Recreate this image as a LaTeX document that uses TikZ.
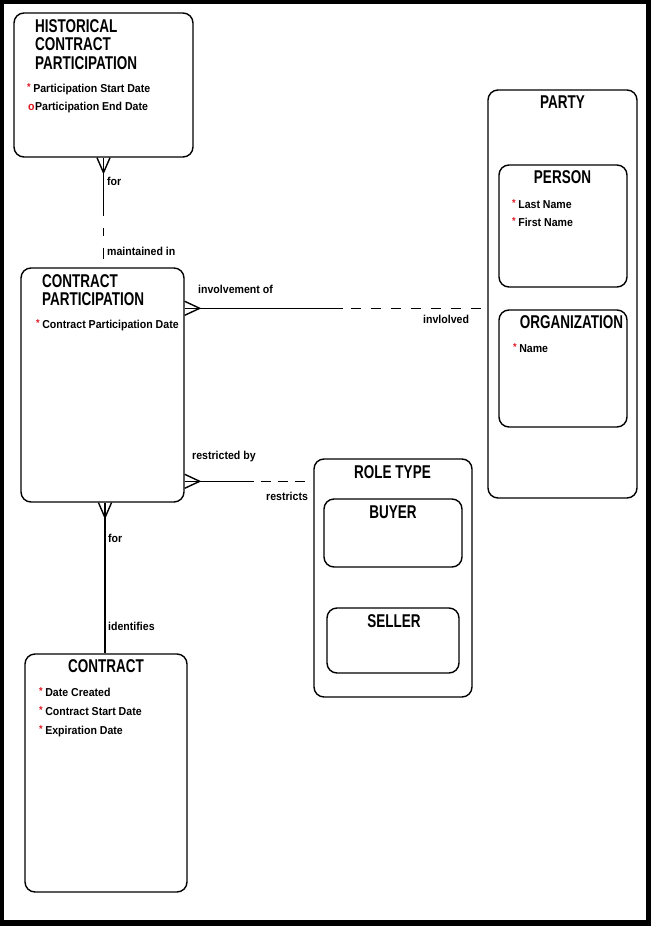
\documentclass[tikz,border=0pt]{standalone}
\usepackage{fontspec}
\setmainfont{Liberation Sans}
\newfontfamily\ttlfont{Liberation Sans}[FakeStretch=0.73]
\newfontfamily\txtfont{Liberation Sans}[FakeStretch=0.92]
\usetikzlibrary{calc}
\definecolor{reqred}{RGB}{225,20,30}
\newcommand{\reqmark}{\textcolor{reqred}{\raisebox{1.5pt}{\fontsize{10}{10}\selectfont *}}\hspace{2.5pt}}
\newcommand{\optmark}{\textcolor{reqred}{o}}
\begin{document}
\begin{tikzpicture}[x=1pt,y=-1pt,
  ent/.style={draw,line width=1.4pt,rounded corners=10pt,inner sep=0pt},
  ttl/.style={inner sep=0pt,font=\ttlfont\bfseries\fontsize{18.5}{18.5}\selectfont},
  attr/.style={inner sep=0pt,anchor=base west,font=\txtfont\bfseries\fontsize{11.5}{11.5}\selectfont},
  lbl/.style={inner sep=0pt,anchor=base west,font=\txtfont\bfseries\fontsize{11.5}{11.5}\selectfont},
  rel/.style={line width=1.4pt}]
\useasboundingbox (0,0) rectangle (651,926);
\fill[black] (0,0) rectangle (651,926);
\fill[white] (4,4) rectangle (646,920);

% entities
\node[ent,minimum width=179pt,minimum height=144pt] (hist) at (103.5,85) {};
\node[ent,minimum width=163pt,minimum height=234pt] (cp) at (102.5,385) {};
\node[ent,minimum width=162pt,minimum height=238pt] (con) at (106,773) {};
\node[ent,minimum width=149pt,minimum height=408pt] (party) at (562.5,294) {};
\node[ent,minimum width=128pt,minimum height=122pt] (person) at (563,226) {};
\node[ent,minimum width=128pt,minimum height=117pt] (org) at (563,368.5) {};
\node[ent,minimum width=158pt,minimum height=238pt] (role) at (393,578) {};
\node[ent,minimum width=138pt,minimum height=68pt] (buyer) at (393,533) {};
\node[ent,minimum width=132pt,minimum height=65pt] (seller) at (393,640.5) {};

% titles
\node[ttl,anchor=base west] (histT1) at (35,32) {HISTORICAL};
\node[ttl,anchor=base west] (histT2) at (35,50.5) {CONTRACT};
\node[ttl,anchor=base west] (histT3) at (35,69) {PARTICIPATION};
\node[ttl,anchor=base west] (cpT1) at (42,287) {CONTRACT};
\node[ttl,anchor=base west] (cpT2) at (42,305) {PARTICIPATION};
\node[ttl,anchor=base] (conT) at (106,672) {CONTRACT};
\node[ttl,anchor=base] (partyT) at (562.5,108) {PARTY};
\node[ttl,anchor=base] (personT) at (562.5,183) {PERSON};
\node[ttl,anchor=base] (orgT) at (571.5,328) {ORGANIZATION};
\node[ttl,anchor=base] (roleT) at (392.5,478) {ROLE TYPE};
\node[ttl,anchor=base] (buyerT) at (393,518) {BUYER};
\node[ttl,anchor=base] (sellerT) at (394,627) {SELLER};

% attributes
\node[attr] (a1) at (27,92) {\reqmark Participation Start Date};
\node[attr] (a2) at (28,110) {\optmark\hspace{0.5pt}Participation End Date};
\node[attr] (a3) at (36,328) {\reqmark Contract Participation Date};
\node[attr] (a4) at (39,696) {\reqmark Date Created};
\node[attr] (a5) at (39,715) {\reqmark Contract Start Date};
\node[attr] (a6) at (39,734) {\reqmark Expiration Date};
\node[attr] (a7) at (512,208) {\reqmark Last Name};
\node[attr] (a8) at (512,226) {\reqmark First Name};
\node[attr] (a9) at (513,352) {\reqmark Name};

% relationship: historical -- contract participation
\coordinate (m1) at ($(hist.south)+(0,58)$);
\draw[rel] (hist.south) -- (m1);
\draw[line width=1.4pt,dash pattern=on 0pt off 12pt on 8pt off 12pt on 11pt off 20pt] (m1) -- (m1 |- cp.north);
\draw[rel] ($(hist.south)+(-6.5,0)$) -- ($(hist.south)+(0,15)$) -- ($(hist.south)+(6.5,0)$);
\node[lbl] (l1) at (107,185) {for};
\node[lbl] (l2) at (107,255) {maintained in};

% relationship: contract participation -- party
\coordinate (p1) at ($(cp.north east)+(0,41)$);
\coordinate (p2) at ($(p1)+(158,0)$);
\draw[rel] (p1) -- (p2);
\draw[line width=1.4pt,dash pattern=on 10pt off 10pt,dash phase=12pt] (p2) -- (p2 -| party.west);
\draw[rel] ($(p1)+(0,-7)$) -- ($(p1)+(15,0)$) -- ($(p1)+(0,7)$);
\node[lbl] (l3) at (198,293) {involvement of};
\node[lbl] (l4) at (423,323) {invlolved};

% relationship: contract participation -- role type
\coordinate (r1) at ($(cp.north east)+(0,214)$);
\coordinate (r2) at ($(r1)+(69,0)$);
\draw[rel] (r1) -- (r2);
\draw[line width=1.4pt,dash pattern=on 10pt off 7pt,dash phase=10pt] (r2) -- ($(r2 -| role.west)+(-8,0)$);
\draw[rel] ($(r1)+(0,-7)$) -- ($(r1)+(15,0)$) -- ($(r1)+(0,7)$);
\node[lbl] (l5) at (192,459) {restricted by};
\node[lbl] (l6) at (266,500) {restricts};

% relationship: contract participation -- contract
\coordinate (c1) at ($(cp.south)+(2.5,0)$);
\draw[rel] (c1) -- (c1 |- con.north);
\draw[rel] ($(c1)+(-6.5,0)$) -- ($(c1)+(0,15)$) -- ($(c1)+(6.5,0)$);
\node[lbl] (l7) at (108,542) {for};
\node[lbl] (l8) at (108,630) {identifies};
\end{tikzpicture}
\end{document}
